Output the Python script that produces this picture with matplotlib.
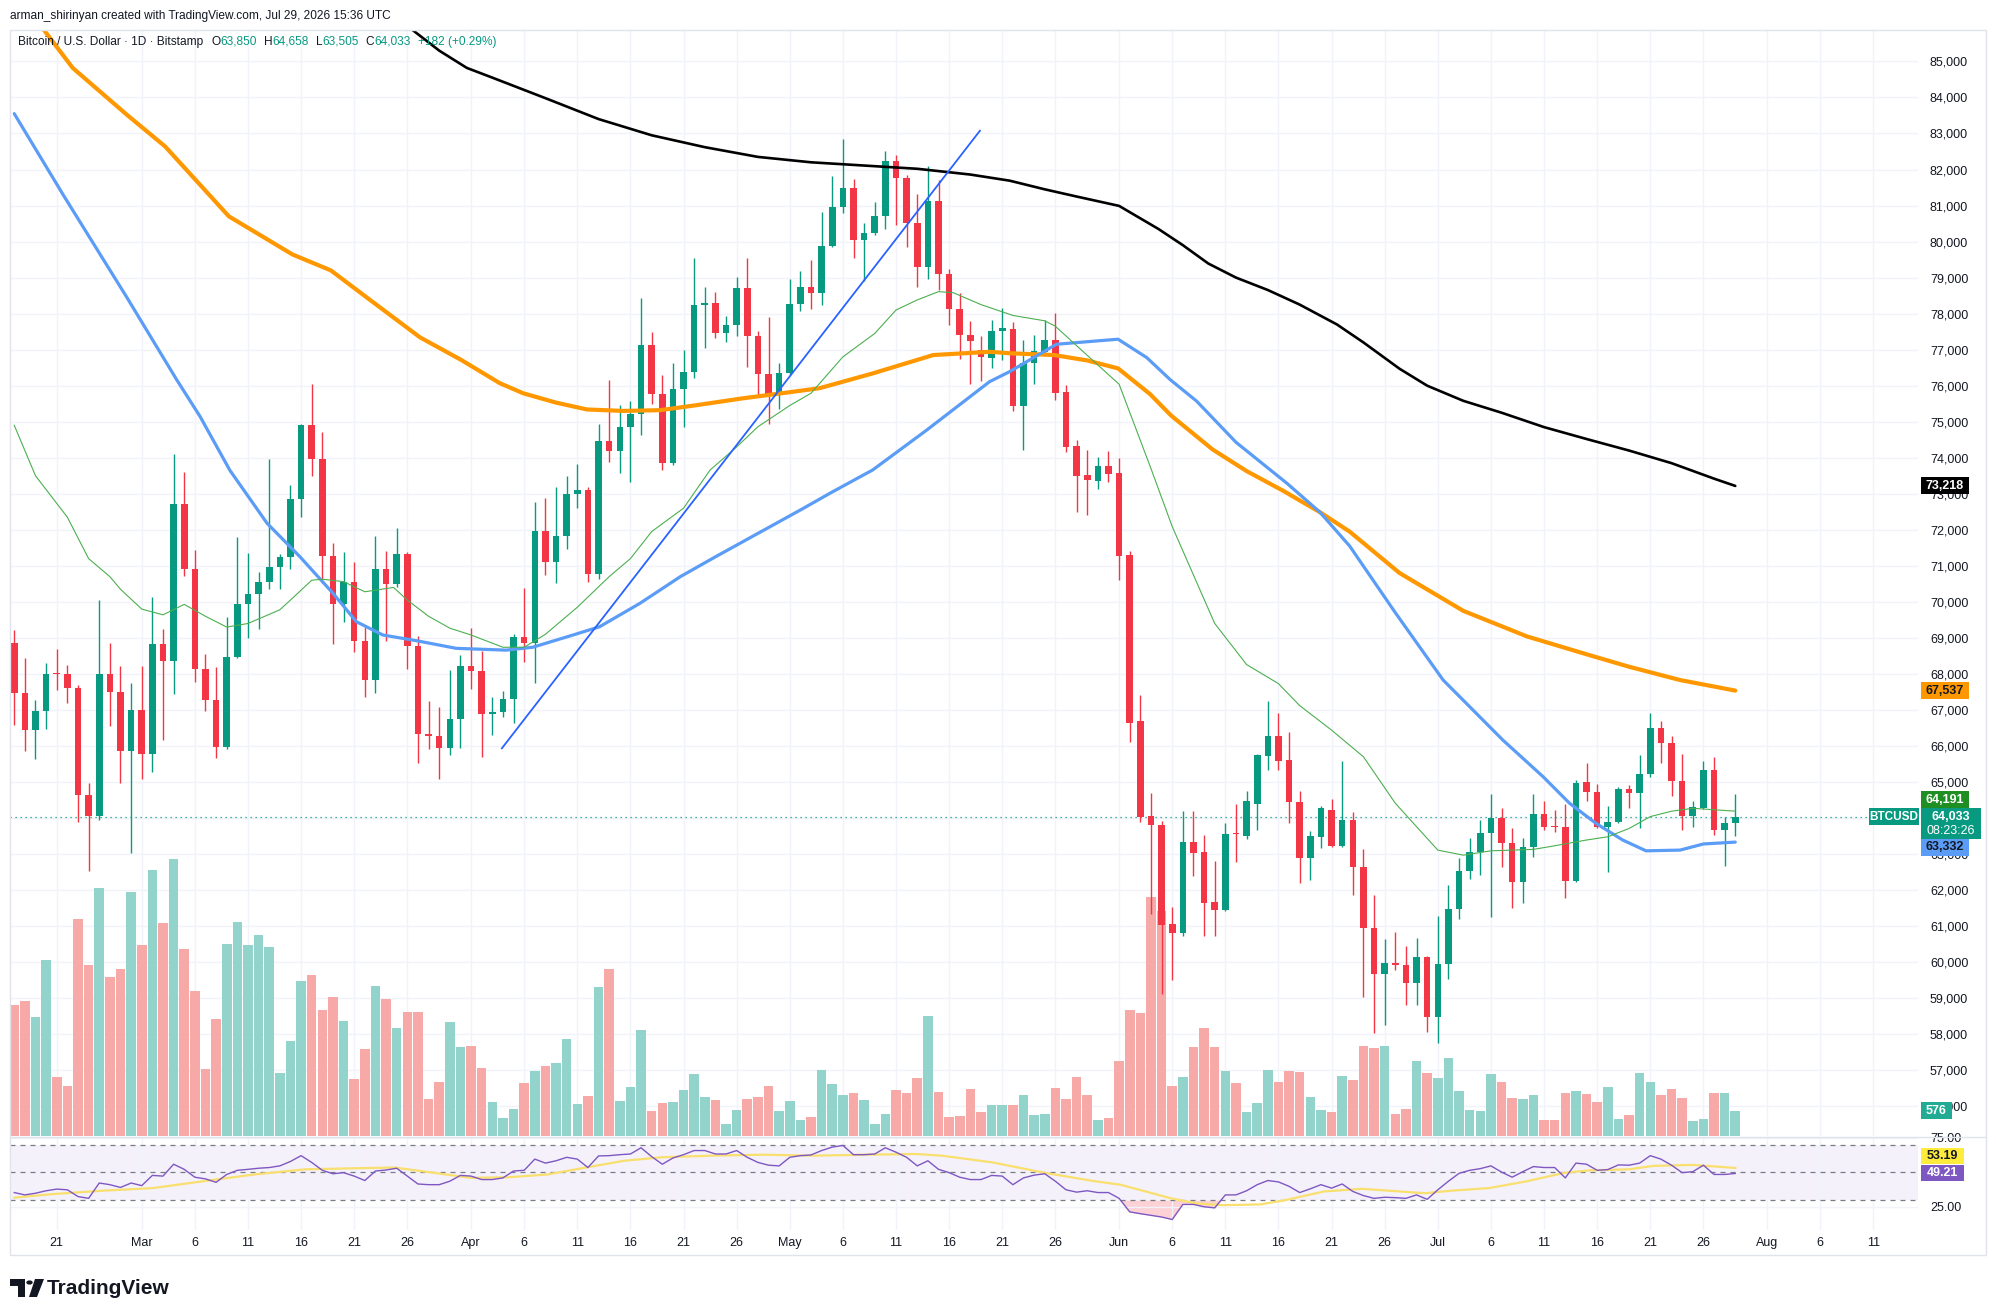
import numpy as np
import pandas as pd
import matplotlib
matplotlib.use("Agg")
import matplotlib.pyplot as plt
import matplotlib.dates as mdates
from matplotlib.patches import Rectangle, Polygon, Circle
from matplotlib.ticker import FuncFormatter, FixedLocator

plt.rcParams['font.family'] = ['Liberation Sans', 'DejaVu Sans']

# ---------------- data ----------------
start = pd.Timestamp('2026-02-17')
dates = pd.date_range(start, '2026-07-29', freq='D')

opens = [68870, 67470, 66440, 66980, 68010, 67990, 67620, 64640, 64060, 68010,
 67490, 65860, 66990, 65790, 68820, 68350, 72710, 70900, 68140, 67270,
 65970, 68470, 69950, 70210, 70550, 70970, 71240, 72850, 74910, 73960,
 71280, 69940, 70540, 68900, 67830, 70900, 70500, 71330, 68780, 66330,
 66290, 65950, 66740, 68220, 68090, 66880, 66930, 67300, 69020, 68850,
 71970, 71110, 71830, 72980, 73100, 70760, 74460, 74200, 74840, 75210,
 77130, 75760, 73850, 75900, 76370, 78240, 78300, 77470, 77680, 78700,
 77380, 76320, 75740, 76340, 78260, 78730, 78580, 79880, 80950, 81480,
 80040, 80230, 80710, 82240, 81770, 80520, 79300, 81130, 79090, 78130,
 77420, 76990, 76780, 77520, 77570, 75430, 76630, 76940, 77270, 75820,
 74320, 73520, 73360, 73760, 73590, 71310, 66680, 64070, 63800, 61050,
 60820, 63330, 63060, 61680, 61450, 63570, 63500, 64400, 65720, 66280,
 65610, 64440, 62890, 63460, 64230, 63220, 63950, 62630, 60960, 59660,
 59990, 59920, 59430, 60150, 58490, 59950, 61470, 62530, 63070, 63580,
 64010, 63300, 62220, 63190, 64100, 63780, 63760, 62240, 64990, 64710,
 63760, 63880, 64800, 64690, 65210, 66510, 66080, 65040, 64070, 64270,
 65340, 63670, 63850]

highs = [69210, 68450, 67290, 68300, 68690, 68260, 67680, 64980, 70050, 68860,
 68230, 67750, 68230, 70140, 69260, 74100, 73610, 71430, 68550, 68190,
 69580, 71790, 71350, 70820, 73960, 71330, 73240, 74950, 76040, 74710,
 71630, 71380, 71100, 69310, 71830, 71410, 72040, 71390, 69050, 67260,
 67070, 68110, 68530, 69270, 68650, 67350, 67530, 69110, 70380, 72760,
 72870, 73200, 73490, 73840, 73200, 74930, 76160, 75460, 75570, 78420,
 77480, 76300, 76640, 76990, 79550, 78730, 78590, 77930, 79010, 79530,
 77520, 77900, 76640, 78950, 79180, 79490, 80810, 81820, 82860, 81750,
 80520, 81090, 82520, 82400, 81850, 81320, 82100, 81710, 79230, 78580,
 77790, 77380, 77820, 78160, 77780, 77270, 77400, 77830, 78010, 76020,
 74480, 74220, 74030, 74190, 73990, 71400, 67420, 64700, 63930, 61520,
 64200, 64200, 63530, 62820, 63870, 64380, 64760, 65770, 67240, 66920,
 66390, 64740, 63630, 64340, 64540, 65570, 64180, 63130, 61870, 60640,
 60830, 60450, 60660, 60170, 61280, 62140, 62880, 63440, 63950, 64670,
 64270, 63720, 63440, 64670, 64480, 64220, 64390, 65060, 65540, 64950,
 64340, 64850, 64920, 65750, 66910, 66700, 66280, 65780, 64460, 65570,
 65690, 64020, 64658]

lows = [66580, 65860, 65650, 66480, 67550, 67200, 63890, 62540, 63950, 66550,
 64980, 63040, 65090, 65280, 66170, 67450, 70710, 67770, 66960, 65660,
 65910, 68440, 69010, 69260, 70360, 70360, 70910, 72350, 73480, 70520,
 68830, 69440, 68610, 67370, 67460, 68920, 70420, 68130, 65520, 65910,
 65080, 65750, 65940, 67570, 65700, 66310, 66800, 66630, 68340, 67740,
 70750, 70510, 71460, 72600, 70560, 70630, 73890, 73570, 73340, 74630,
 75490, 73650, 73800, 74860, 76200, 77040, 77330, 77220, 77390, 76510,
 75690, 74950, 75340, 76300, 78080, 78130, 78240, 79860, 80780, 79550,
 78910, 80180, 80340, 80460, 79860, 78750, 78950, 78660, 77680, 76730,
 76050, 76140, 76480, 76710, 75300, 74220, 76040, 76870, 75600, 74160,
 72490, 72420, 73140, 73320, 70600, 66120, 63900, 61350, 59110, 59510,
 60720, 62390, 60720, 60720, 61430, 62770, 63420, 63670, 65340, 65340,
 63870, 62190, 62280, 63170, 63200, 63210, 61870, 59030, 58030, 58260,
 59770, 58810, 58810, 58070, 57750, 59520, 61190, 62300, 62420, 61250,
 62630, 61500, 61650, 62910, 63670, 63600, 61770, 62220, 64460, 63720,
 62490, 63870, 64270, 63720, 65130, 65520, 64610, 63670, 63760, 64240,
 63530, 62680, 63505]

closes = [67470, 66440, 66980, 68010, 67990, 67620, 64640, 64060, 68010, 67490,
 65860, 66990, 65790, 68820, 68350, 72710, 70900, 68140, 67270, 65970,
 68470, 69950, 70210, 70550, 70970, 71240, 72850, 74910, 73960, 71280,
 69940, 70540, 68900, 67830, 70900, 70500, 71330, 68780, 66330, 66290,
 65950, 66740, 68220, 68090, 66880, 66930, 67300, 69020, 68850, 71970,
 71110, 71830, 72980, 73100, 70760, 74460, 74200, 74840, 75210, 77130,
 75760, 73850, 75900, 76370, 78240, 78300, 77470, 77680, 78700, 77380,
 76320, 75740, 76340, 78260, 78730, 78580, 79880, 80950, 81480, 80040,
 80230, 80710, 82240, 81770, 80520, 79300, 81130, 79090, 78130, 77420,
 77240, 76790, 77520, 77590, 75430, 76640, 76960, 77270, 75800, 74300,
 73490, 73380, 73760, 73560, 71280, 66650, 64040, 63800, 61020, 60820,
 63330, 63040, 61650, 61450, 63570, 63550, 64470, 65740, 66280, 65580,
 64440, 62890, 63490, 64270, 63220, 63950, 62630, 60960, 59660, 59990,
 59920, 59430, 60140, 58490, 59950, 61470, 62530, 63070, 63580, 64010,
 63300, 62220, 63190, 64100, 63760, 63740, 62240, 64970, 64710, 63760,
 63880, 64810, 64690, 65210, 66510, 66080, 65040, 64070, 64320, 65340,
 63670, 63851, 64033]

volumes = [3018, 3110, 2742, 4055, 1359, 1152, 5000, 3940, 5714, 3663,
 3848, 5622, 4401, 6129, 4908, 6382, 4308, 3341, 1544, 2696,
 4424, 4931, 4401, 4631, 4355, 1452, 2189, 3571, 3709, 2903,
 3203, 2650, 1313, 2004, 3456, 3156, 2488, 2857, 2857, 852,
 1244, 2627, 2051, 2074, 1567, 783, 415, 622, 1221, 1498,
 1613, 1682, 2235, 737, 922, 3433, 3848, 806, 1129, 2442,
 576, 760, 783, 1060, 1428, 899, 829, 276, 599, 852,
 899, 1152, 576, 806, 369, 438, 1521, 1198, 945, 991,
 829, 276, 507, 1060, 991, 1336, 2765, 1014, 438, 461,
 1083, 553, 714, 714, 714, 945, 484, 507, 1106, 852,
 1359, 945, 369, 415, 1728, 2903, 2834, 5507, 5184, 1152,
 1359, 2051, 2488, 2051, 1498, 1221, 553, 760, 1521, 1244,
 1498, 1475, 899, 599, 553, 1382, 1290, 2074, 2028, 2074,
 507, 622, 1728, 1459, 1336, 1797, 1037, 599, 576, 1428,
 1244, 876, 852, 945, 369, 369, 991, 1037, 968, 783,
 1129, 392, 484, 1452, 1244, 945, 1083, 876, 346, 392,
 991, 991, 576]

rsi = [35.4, 33.7, 34.9, 36.7, 37.9, 37.4, 32.5, 31.2, 42.3, 41.1,
 39.1, 42.3, 40.4, 47.8, 47.3, 55.9, 52.2, 46.5, 45.3, 42.8,
 48.5, 51.5, 52.2, 53.0, 53.5, 54.7, 57.9, 62.1, 57.2, 51.5,
 49.0, 49.8, 47.3, 44.1, 51.0, 51.7, 53.0, 47.3, 41.6, 41.1,
 41.1, 43.6, 47.8, 47.3, 44.8, 44.8, 46.0, 51.0, 51.5, 59.6,
 56.7, 58.4, 60.9, 59.6, 53.5, 61.9, 62.1, 62.8, 63.3, 67.8,
 61.4, 55.9, 60.4, 62.8, 65.8, 65.8, 63.3, 63.3, 65.8, 60.9,
 57.2, 55.2, 54.7, 60.9, 62.1, 62.6, 65.8, 68.3, 69.5, 62.8,
 62.8, 63.3, 67.8, 64.6, 60.9, 54.7, 58.4, 52.2, 49.8, 46.5,
 44.8, 44.8, 47.8, 47.3, 41.1, 46.0, 48.0, 49.0, 43.6, 37.4,
 35.7, 36.7, 35.4, 35.4, 31.2, 21.4, 20.1, 18.9, 17.7, 15.9,
 26.8, 26.8, 25.1, 24.3, 33.7, 33.7, 36.7, 41.1, 44.1, 43.1,
 39.9, 35.4, 38.1, 41.1, 38.6, 41.6, 36.2, 33.2, 31.2, 32.0,
 31.7, 31.2, 33.7, 30.5, 37.4, 43.6, 49.3, 51.5, 52.7, 54.7,
 50.2, 46.5, 50.5, 54.2, 53.5, 53.5, 46.0, 56.7, 55.9, 51.5,
 52.0, 55.4, 55.2, 56.7, 62.1, 59.6, 55.2, 49.8, 50.5, 55.2,
 48.5, 48.5, 49.21]

rsi_ma_day = [0, 3.5, 8.2, 13.0, 17.8, 22.6, 27.4, 32.2, 35.8, 39.4, 43.0, 46.6, 50.2, 53.8,
 57.4, 60.9, 65.7, 70.5, 75.3, 80.1, 84.9, 87.3, 92.1, 96.9, 101.7, 104.1, 106.5, 108.9,
 111.3, 113.7, 117.3, 119.7, 123.3, 126.9, 130.4, 132.8, 135.2, 138.8, 142.4, 146.0,
 148.4, 152.0, 154.3, 158.0, 162]
rsi_ma = [31.7, 34.2, 36.7, 38.6, 43.6, 48.5, 52.2, 53.0, 53.5, 49.8, 46.0, 46.5, 48.5, 53.5,
 58.4, 60.9, 62.1, 62.8, 62.1, 62.8, 63.3, 62.1, 57.2, 49.8, 43.6, 41.1, 36.2, 31.2,
 27.5, 26.3, 26.8, 30.0, 36.2, 38.1, 36.2, 34.9, 36.7, 38.6, 43.6, 49.8,
 51.5, 52.2, 54.7, 55.4, 53.19]

sma20_day = [0, 2, 5, 7, 9, 10, 12, 14, 16, 18, 20, 22, 25, 26, 28, 29, 31, 33, 35.7, 37,
 39, 41, 43, 46, 48, 50, 53, 56, 58, 60, 63, 65.5, 68, 70, 73, 75, 78, 81, 83, 85,
 87, 88.4, 91, 94, 97, 98, 100, 104, 107, 109, 113, 116, 119, 121, 124, 127, 130, 134, 136.4, 139,
 143, 145, 148, 150, 152, 154, 156, 158, 160, 162]
sma20 = [74900, 73500, 72350, 71200, 70700, 70350, 69800, 69640, 69930, 69600,
 69300, 69400, 69780, 70050, 70600, 70630, 70560, 70280, 70400, 70050,
 69600, 69270, 69080, 68740, 68740, 69100, 69850, 70700, 71200, 71950,
 72600, 73660, 74300, 74860, 75450, 75790, 76800, 77450, 78100, 78380,
 78610, 78580, 78250, 77950, 77800, 77650, 77110, 76040, 73700, 72090,
 69400, 68260, 67730, 67120, 66440, 65700, 64410, 63110, 62970, 63090,
 63130, 63230, 63390, 63480, 63710, 64040, 64190, 64270, 64230, 64191]

sma50_day = [0, 4.6, 10.6, 15.3, 17.5, 20.3, 23.8, 26.9, 30.0, 32.2, 34.7, 37.9, 41.6, 46.3,
 48.8, 52.6, 55.1, 58.9, 62.7, 66, 70, 74, 77, 80.8, 85.9, 91.8, 93.7, 98.1, 103.9, 106.6,
 108.8, 111.3, 115.0, 119.8, 122.9, 125.7, 130, 134.5, 137.0, 140.1, 143.9, 146.4, 148.9,
 151.4, 153.6, 156.8, 159.0, 162]
sma50 = [83550, 81300, 78450, 76160, 75140, 73650, 72180, 71250, 70240, 69450, 69080, 68920,
 68710, 68660, 68740, 69080, 69310, 69960, 70700, 71250, 71900, 72550, 73050, 73660, 74770,
 76110, 76390, 77150, 77290, 76780, 76170, 75570, 74430, 73290, 72490, 71550, 69700, 67830,
 67090, 66170, 65150, 64410, 63850, 63390, 63090, 63110, 63280, 63332]

sma100_day = [0, 2.8, 5.5, 10.6, 14.2, 20.2, 26.2, 29.8, 33.4, 38.2, 42.1, 45.7, 47.9, 51.0,
 53.9, 57.3, 60.8, 64, 68.6, 72, 75.8, 80.8, 86.5, 91.8, 93.7, 97.9, 101, 103.9, 106.9,
 108.9, 112.8, 116.0, 119.4, 122.9, 125.7, 130.4, 136.4, 142.4, 148.4, 152, 156.8, 160, 162]
sma100 = [87000, 85870, 84820, 83520, 82640, 80700, 79640, 79200, 78400, 77340, 76710, 76070,
 75790, 75530, 75340, 75300, 75320, 75450, 75650, 75780, 75930, 76340, 76850, 76940, 76900,
 76850, 76700, 76480, 75770, 75170, 74230, 73630, 73090, 72490, 71950, 70800, 69750, 69040,
 68510, 68200, 67830, 67650, 67537]

sma200_day = [33, 35, 37.5, 40, 42.6, 45, 50, 55, 60, 65, 70, 75, 80, 85, 90, 93.7, 97, 100,
 104, 107.7, 110, 112.4, 115, 118, 121, 124.5, 127, 130.4, 133, 136.4, 140, 144, 148, 152,
 156, 160, 162]
sma200 = [87200, 86600, 85870, 85300, 84820, 84550, 83980, 83400, 82950, 82620, 82350, 82200,
 82110, 82020, 81860, 81690, 81450, 81250, 80990, 80350, 79900, 79390, 79000, 78655, 78250,
 77700, 77200, 76470, 76000, 75580, 75250, 74850, 74520, 74200, 73850, 73420, 73218]

trend_day = [45.9, 90.9]
trend_price = [65935, 83077]

tick_dates = ['2026-02-21', '2026-03-01', '2026-03-06', '2026-03-11', '2026-03-16', '2026-03-21',
 '2026-03-26', '2026-04-01', '2026-04-06', '2026-04-11', '2026-04-16', '2026-04-21', '2026-04-26',
 '2026-05-01', '2026-05-06', '2026-05-11', '2026-05-16', '2026-05-21', '2026-05-26', '2026-06-01',
 '2026-06-06', '2026-06-11', '2026-06-16', '2026-06-21', '2026-06-26', '2026-07-01', '2026-07-06',
 '2026-07-11', '2026-07-16', '2026-07-21', '2026-07-26', '2026-08-01', '2026-08-06', '2026-08-11']
tick_labels = ['21', 'Mar', '6', '11', '16', '21', '26', 'Apr', '6', '11', '16', '21', '26',
 'May', '6', '11', '16', '21', '26', 'Jun', '6', '11', '16', '21', '26', 'Jul', '6', '11',
 '16', '21', '26', 'Aug', '6', '11']

price_ticks = list(range(56000, 86000, 1000))
rsi_ticks = [25, 75]

header = "arman_shirinyan created with TradingView.com, Jul 29, 2026 15:36 UTC"
symbol = "Bitcoin / U.S. Dollar \u00b7 1D \u00b7 Bitstamp"
countdown = "08:23:26"

# ---------------- layout ----------------
W, H = 1996, 1314
fig = plt.figure(figsize=(W / 100, H / 100), dpi=100)
fig.patch.set_facecolor('white')

def fx(px):
    return px / W

def fy(py):
    return 1 - py / H

L, R = 10, 1918
TOP, MB = 30, 1136
RT, RB = 1137, 1230
rect_main = [fx(L), fy(MB), fx(R) - fx(L), fy(TOP) - fy(MB)]

ax_g = fig.add_axes(rect_main)
ax_v = fig.add_axes(rect_main, sharex=ax_g)
ax = fig.add_axes(rect_main, sharex=ax_g)
ax_r = fig.add_axes([fx(L), fy(RB), fx(R) - fx(L), fy(RT) - fy(RB)], sharex=ax_g)
ax_g.set_zorder(0); ax_v.set_zorder(1); ax.set_zorder(2); ax_r.set_zorder(0)
ax_v.patch.set_visible(False)
ax.patch.set_visible(False)

x = mdates.date2num(dates)
x0 = mdates.date2num(start)
tx = mdates.date2num(pd.to_datetime(tick_dates))

for a in (ax_g, ax_v, ax, ax_r):
    for s in a.spines.values():
        s.set_visible(False)

ax_g.set_xlim(x0 - 0.4, x0 + 179.2)
PLO, PHI = 55175, 85872
ax_g.set_ylim(PLO, PHI)
ax.set_ylim(PLO, PHI)
VMAX = 25482
ax_v.set_ylim(0, VMAX)
ax_r.set_ylim(8.3, 75.6)

grid_c = '#f0f3fa'
ax_g.xaxis.set_major_locator(FixedLocator(tx))
ax_g.xaxis.set_major_formatter(FuncFormatter(lambda v, p: tick_labels[p] if p is not None and p < len(tick_labels) else ''))
ax_g.set_yticks(price_ticks)
ax_g.yaxis.tick_right()
ax_g.yaxis.set_major_formatter(FuncFormatter(lambda v, p: f"{int(round(v)):,}"))
ax_g.tick_params(axis='y', length=0, pad=8.6, labelsize=9, labelcolor='#131722')
ax_g.tick_params(axis='x', length=0, labelbottom=False)
ax_g.grid(True, color=grid_c, lw=1.0)

ax_v.set_yticks([])
ax_v.tick_params(axis='x', length=0, labelbottom=False)
ax.set_yticks([])
ax.tick_params(axis='x', length=0, labelbottom=False)

# ---------------- volume ----------------
o = np.array(opens); h = np.array(highs); l = np.array(lows); c = np.array(closes)
up = c >= o
vol_col = np.where(up, '#92d3cb', '#f7a9a7')
ax_v.bar(x, volumes, width=0.9, color=vol_col, linewidth=0)

# ---------------- candles ----------------
ccol = np.where(up, '#089981', '#F23645')
ax.vlines(x, l, h, colors=ccol, lw=1.0, zorder=3)
body_lo = np.minimum(o, c)
body_h = np.maximum(np.abs(c - o), 30)
ax.bar(x, body_h, bottom=body_lo, width=0.62, color=ccol, linewidth=0, zorder=4)

# moving averages
ax.plot(x0 + np.array(sma200_day), sma200, color='#000000', lw=1.9, zorder=5,
        solid_capstyle='round', solid_joinstyle='round')
ax.plot(x0 + np.array(sma100_day), sma100, color='#FF9800', lw=3.0, zorder=5,
        solid_capstyle='round', solid_joinstyle='round')
ax.plot(x0 + np.array(sma50_day), sma50, color='#5B9CF6', lw=2.3, zorder=5,
        solid_capstyle='round', solid_joinstyle='round')
ax.plot(x0 + np.array(sma20_day), sma20, color='#4CAF50', lw=0.8, zorder=5)
ax.plot(x0 + np.array(trend_day), trend_price, color='#2962FF', lw=1.3, zorder=6)
ax.axhline(closes[-1], color='#089981', lw=0.9, ls=(0, (1, 3)), zorder=2)

# ---------------- RSI ----------------
ax_r.axhspan(30, 70, color='#7E57C2', alpha=0.08, lw=0)
for lv in (70, 50, 30):
    ax_r.axhline(lv, color='#787B86', lw=0.9, ls=(0, (4, 4)))
ax_r.set_yticks(rsi_ticks)
ax_r.yaxis.tick_right()
ax_r.yaxis.set_major_formatter(FuncFormatter(lambda v, p: f"{v:.2f}"))
ax_r.tick_params(axis='y', length=0, pad=8.6, labelsize=9, labelcolor='#131722')
ax_r.tick_params(axis='x', length=0, pad=5, labelsize=9, labelcolor='#131722', labelbottom=True)
ax_r.grid(True, color=grid_c, lw=1.0)
rsi_a = np.array(rsi)
ax_r.fill_between(x, rsi_a, 30, where=rsi_a < 30, interpolate=True, color='#F23645', alpha=0.22, lw=0)
ax_r.plot(x0 + np.array(rsi_ma_day), rsi_ma, color='#F9DF6E', lw=1.6)
ax_r.plot(x, rsi_a, color='#7E57C2', lw=1.0)

# ---------------- frame ----------------
fig.add_artist(Rectangle((fx(10), fy(1255)), fx(1986) - fx(10), fy(30) - fy(1255),
                         transform=fig.transFigure, fill=False, ec='#e0e3eb', lw=1.0, zorder=20))
fig.add_artist(plt.Line2D([fx(10), fx(1986)], [fy(1136.5), fy(1136.5)], transform=fig.transFigure,
                          color='#e0e3eb', lw=1.0, zorder=20))

# ---------------- tags ----------------
def py_of(axis, val):
    return H - axis.transData.transform((x0, val))[1]

def tag(ypx, text, fc, tc, xl=1921, w=48, h=17, size=9):
    fig.add_artist(Rectangle((fx(xl), fy(ypx + h / 2)), w / W, h / H, transform=fig.transFigure,
                             fc=fc, ec='none', zorder=30))
    fig.text(fx(xl + w / 2), fy(ypx), text, color=tc, fontsize=size, fontweight='bold',
             ha='center', va='center', zorder=31)

tag(py_of(ax, sma200[-1]), f"{sma200[-1]:,}", '#000000', 'white')
tag(py_of(ax, sma100[-1]), f"{sma100[-1]:,}", '#FF9800', '#131722')
yc = py_of(ax, closes[-1])
tag(yc - 17, f"{sma20[-1]:,}", '#1f8f24', 'white')
fig.add_artist(Rectangle((fx(1921), fy(yc + 22)), 60 / W, 30.5 / H, transform=fig.transFigure,
                         fc='#089981', ec='none', zorder=30))
fig.text(fx(1951), fy(yc), f"{closes[-1]:,}", color='white', fontsize=9, fontweight='bold',
         ha='center', va='center', zorder=31)
fig.text(fx(1951), fy(yc + 14), countdown, color='white', fontsize=9,
         ha='center', va='center', zorder=31)
tag(yc + 30.5, f"{sma50[-1]:,}", '#5B9CF6', '#131722')
tag(yc, "BTCUSD", '#089981', 'white', xl=1869, w=50, size=8.5)
tag(py_of(ax_v, volumes[-1]), f"{volumes[-1]}", '#22ab94', 'white', w=31)
yr = py_of(ax_r, rsi[-1])
tag(yr, f"{rsi[-1]:.2f}", '#7E57C2', 'white', w=43, h=16)
tag(yr - 17, f"{rsi_ma[-1]:.2f}", '#FFEB3B', '#131722', w=43, h=16)

# ---------------- header / legend ----------------
fig.text(fx(10), fy(16), header, fontsize=8.6, color='#131722', va='center', ha='left')
r = fig.canvas.get_renderer()
xpos = [18]

def put(s, color, gap=0):
    t = fig.text(fx(xpos[0]), fy(42), s, color=color, fontsize=8.6, va='center', ha='left', zorder=25)
    bb = t.get_window_extent(renderer=r)
    xpos[0] = bb.x1 + gap

teal = '#089981'
put(symbol, '#131722', 8)
put('O', '#131722'); put(f"{opens[-1]:,}", teal, 7)
put('H', '#131722'); put(f"{highs[-1]:,}", teal, 7)
put('L', '#131722'); put(f"{lows[-1]:,}", teal, 7)
put('C', '#131722'); put(f"{closes[-1]:,}", teal, 7)
chg = closes[-1] - closes[-2]
put(f"+{chg:,} (+{chg / closes[-2] * 100:.2f}%)", teal)

# ---------------- TradingView logo ----------------
def P(pts, **kw):
    fig.add_artist(Polygon([(fx(a), fy(b)) for a, b in pts], closed=True,
                           transform=fig.transFigure, **kw))

P([(10, 1279), (25, 1279), (25, 1297), (18, 1297), (18, 1286), (10, 1286)], fc='#131722', ec='none')
fig.add_artist(Circle((fx(29.5), fy(1282.5)), 3.2 / W, transform=fig.transFigure, fc='#131722', ec='none'))
P([(35, 1279), (44, 1279), (37, 1297), (29, 1297)], fc='#131722', ec='none')
fig.text(fx(47), fy(1288), "TradingView", fontsize=15, fontweight='bold', color='#131722',
         va='center', ha='left')

fig.savefig('out.png', dpi=100, facecolor='white')
